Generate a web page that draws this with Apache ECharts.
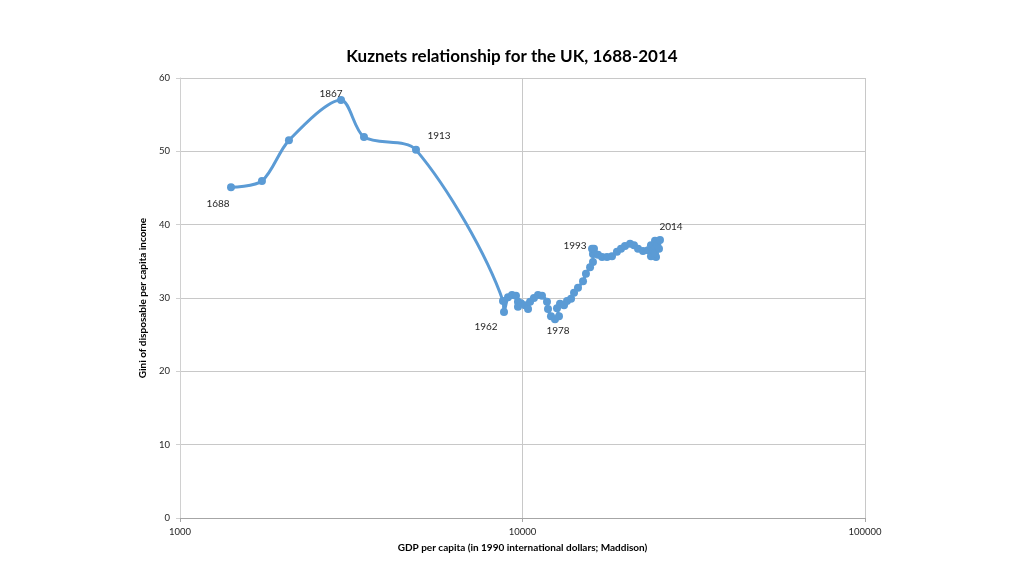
<!DOCTYPE html>
<html>
<head>
<meta charset="utf-8">
<script src="https://cdn.jsdelivr.net/npm/echarts@6/dist/echarts.min.js"></script>
<style>
html,body{margin:0;padding:0;background:#fff;}
#chart{width:1024px;height:576px;}
</style>
</head>
<body>
<div id="chart"></div>
<script>
const years = [1688, 1739, 1801, 1867, 1880, 1913,
  1961, 1962, 1963, 1964, 1965, 1966, 1967, 1968, 1969, 1970,
  1971, 1972, 1973, 1974, 1975, 1976, 1977, 1978, 1979, 1980,
  1981, 1982, 1983, 1984, 1985, 1986, 1987, 1988, 1989, 1990,
  1991, 1992, 1993, 1994, 1995, 1996, 1997, 1998, 1999, 2000,
  2001, 2002, 2003, 2004, 2005, 2006, 2007, 2008, 2009, 2010,
  2011, 2012, 2013, 2014];
const gdp = [1409, 1735, 2080, 2952, 3445, 4887,
  8770, 8830, 9070, 9320, 9570, 9700, 9700, 9900, 10170, 10380,
  10520, 10800, 11100, 11400, 11790, 11870, 12110, 12440, 12780, 12610,
  12870, 13220, 13490, 13860, 14140, 14520, 15020, 15320, 15750, 16060,
  16060, 15960, 16170, 16610, 17070, 17650, 18250, 18870, 19390, 19920,
  20610, 21160, 21740, 22480, 23250, 23720, 24370, 24700, 24040, 24540,
  23720, 24370, 25030, 25200];
const gini = [45.1, 45.95, 51.5, 57.0, 51.95, 50.2,
  29.6, 28.1, 30.1, 30.4, 30.3, 29.5, 28.8, 29.3, 29.0, 28.5,
  29.5, 30.0, 30.4, 30.3, 29.5, 28.5, 27.5, 27.1, 27.5, 28.6,
  29.2, 29.0, 29.6, 29.9, 30.7, 31.4, 32.3, 33.3, 34.2, 34.9,
  36.0, 36.7, 36.7, 35.9, 35.6, 35.6, 35.7, 36.3, 36.7, 37.1,
  37.4, 37.2, 36.7, 36.4, 36.5, 37.2, 37.8, 37.2, 36.4, 35.6,
  35.7, 36.1, 36.7, 37.9];
const labelYears = [1688, 1867, 1913, 1962, 1978, 1993, 2014];
const xTicks = [1000, 10000, 100000];

const labelOffsets = {
  1688: [-13, 17], 1867: [-10, -6], 1913: [23, -14], 1962: [-18, 15],
  1978: [3, 12], 1993: [-19, -3], 2014: [11, -13]
};

const font = 'Lato, "Liberation Sans", sans-serif';

const seriesData = years.map((y, i) => {
  const item = { value: [gdp[i], gini[i]] };
  if (labelYears.includes(y)) {
    item.label = {
      show: true, formatter: String(y), position: 'inside',
      offset: labelOffsets[y], color: '#262626', fontSize: 10,
      fontFamily: font
    };
  }
  return item;
});

const chart = echarts.init(document.getElementById('chart'), null, { renderer: 'canvas' });
chart.setOption({
  animation: false,
  backgroundColor: '#ffffff',
  title: {
    text: 'Kuznets relationship for the UK, 1688-2014',
    left: 'center', top: 43,
    textStyle: { fontSize: 17, fontWeight: 'bold', color: '#000', fontFamily: font }
  },
  grid: { left: 180, right: 159, top: 78, bottom: 58 },
  xAxis: {
    type: 'log', logBase: 10, min: 1000, max: 100000,
    name: 'GDP per capita (in 1990 international dollars; Maddison)',
    nameLocation: 'middle', nameGap: 25,
    nameTextStyle: { fontSize: 10, fontWeight: 'bold', color: '#000', fontFamily: font },
    axisLine: { show: true, lineStyle: { color: '#a6a6a6', width: 1 } },
    axisTick: { show: true, length: 4, lineStyle: { color: '#a6a6a6' } },
    axisLabel: { fontSize: 9.5, color: '#262626', margin: 9, fontFamily: font,
      formatter: v => xTicks.includes(Math.round(v)) ? String(Math.round(v)) : '' },
    splitLine: { show: true, lineStyle: { color: '#c8c8c8', width: 1 } },
    minorTick: { show: false }
  },
  yAxis: {
    type: 'value', min: 0, max: 60, interval: 10,
    name: 'Gini of disposable per capita income',
    nameLocation: 'middle', nameGap: 29,
    nameTextStyle: { fontSize: 10, fontWeight: 'bold', color: '#000', fontFamily: font },
    axisLine: { show: true, lineStyle: { color: '#d0d0d0', width: 1 } },
    axisTick: { show: true, length: 4, lineStyle: { color: '#d0d0d0' } },
    axisLabel: { fontSize: 9.5, color: '#262626', margin: 10, fontFamily: font },
    splitLine: { show: true, lineStyle: { color: '#c8c8c8', width: 1 } }
  },
  series: [{
    type: 'line',
    data: seriesData,
    smooth: 0.3,
    symbol: 'circle',
    symbolSize: 8,
    lineStyle: { color: '#5b9bd5', width: 3 },
    itemStyle: { color: '#5b9bd5' },
    z: 3
  }]
});
</script>
</body>
</html>
